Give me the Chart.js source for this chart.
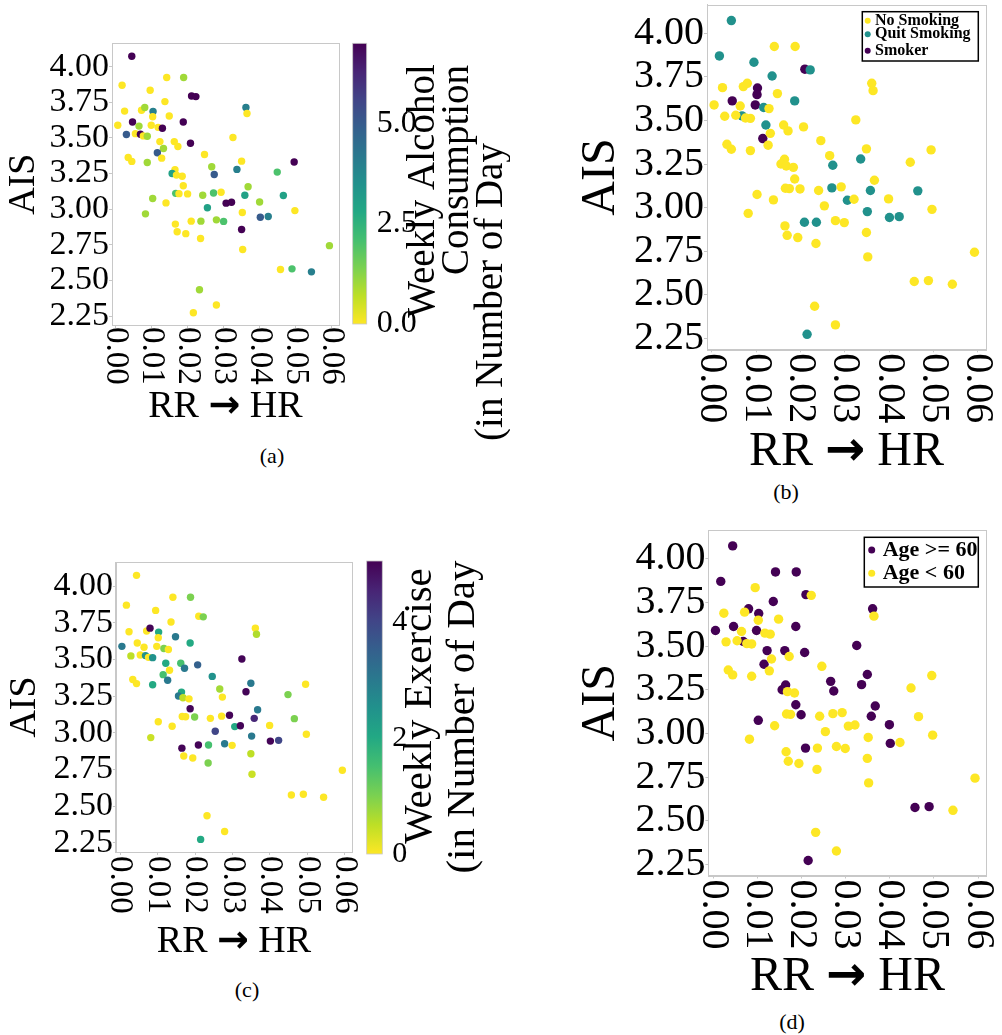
<!DOCTYPE html>
<html>
<head>
<meta charset="utf-8">
<script src="https://cdn.jsdelivr.net/npm/chart.js@4.4.0/dist/chart.umd.min.js"></script>
<style>
  body { margin: 0; background: #fff; width: 1002px; height: 1035px; position: relative; overflow: hidden; font-family: "Liberation Serif", serif; }
  canvas { position: absolute; }
  .cap { position: absolute; font-size: 22px; transform: translate(-50%, -50%); font-family: "Liberation Serif", serif; }
</style>
</head>
<body>
<canvas id="plotA" width="345" height="398" style="left:0;top:30px"></canvas>
<canvas id="barA" width="165" height="410" style="left:345px;top:30px"></canvas>
<canvas id="plotB" width="440" height="477" style="left:560px;top:0"></canvas>
<canvas id="plotC" width="358" height="416" style="left:0;top:545px"></canvas>
<canvas id="barC" width="150" height="430" style="left:358px;top:545px"></canvas>
<canvas id="plotD" width="440" height="484" style="left:560px;top:520px"></canvas>
<div class="cap" style="left:272px;top:456px">(a)</div>
<div class="cap" style="left:786px;top:492px">(b)</div>
<div class="cap" style="left:247px;top:990px">(c)</div>
<div class="cap" style="left:792px;top:1022px">(d)</div>
<script>
// ─── Data ────────────────────────────────────────────────────────────────────

const xTicks      = [0, 0.01, 0.02, 0.03, 0.04, 0.05, 0.06];
const xTickLabels = ['0.00', '0.01', '0.02', '0.03', '0.04', '0.05', '0.06'];
const yTicks      = [2.25, 2.5, 2.75, 3.0, 3.25, 3.5, 3.75, 4.0];
const yTickLabels = ['2.25', '2.50', '2.75', '3.00', '3.25', '3.50', '3.75', '4.00'];
const X_MIN = -0.0011, X_MAX = 0.0619;
const Y_MIN = 2.187,  Y_MAX = 4.164;
const xTitleParts = ['RR', '→', 'HR'];

const alcoholTicks       = [0, 2.5, 5];
const alcoholTickLabels  = ['0.0', '2.5', '5.0'];
const ALCOHOL_MAX        = 7;
const exerciseTicks      = [0, 2, 4];
const exerciseTickLabels = ['0', '2', '4'];
const EXERCISE_MAX       = 5.05;

const smokingCats = ['No Smoking', 'Quit Smoking', 'Smoker'];
const ageCats     = ['Age >= 60', 'Age < 60'];

// RR -> HR and AIS, one entry per subject
const rrHr = [
  0.0044, 0.0017, 0.0141, 0.0188, 0.0095, 0.0210, 0.0222, 0.0136, 0.0024, 0.0071,
  0.0080, 0.0103, 0.0102, 0.0148, 0.0361, 0.0364, 0.0046, 0.0187, 0.0005, 0.0064,
  0.0098, 0.0117, 0.0129, 0.0029, 0.0054, 0.0068, 0.0076, 0.0087, 0.0325, 0.0122,
  0.0162, 0.0172, 0.0207, 0.0132, 0.0115, 0.0127, 0.0034, 0.0044, 0.0087, 0.0246,
  0.0349, 0.0495, 0.0266, 0.0336, 0.0273, 0.0448, 0.0164, 0.0156, 0.0168, 0.0184,
  0.0187, 0.0367, 0.0166, 0.0175, 0.0199, 0.0241, 0.0271, 0.0292, 0.0358, 0.0465,
  0.0102, 0.0139, 0.0306, 0.0321, 0.0399, 0.0254, 0.0082, 0.0351, 0.0497, 0.0401,
  0.0423, 0.0209, 0.0236, 0.0279, 0.0299, 0.0165, 0.0170, 0.0194, 0.0235, 0.0349,
  0.0352, 0.0593, 0.0457, 0.0489, 0.0543, 0.0232, 0.0279, 0.0215
];
const ais = [
  4.073, 3.870, 3.924, 3.924, 3.834, 3.794, 3.790, 3.755, 3.688, 3.694,
  3.713, 3.686, 3.648, 3.654, 3.713, 3.671, 3.612, 3.612, 3.589, 3.583,
  3.589, 3.574, 3.568, 3.524, 3.530, 3.526, 3.514, 3.512, 3.503, 3.474,
  3.474, 3.440, 3.463, 3.426, 3.396, 3.358, 3.363, 3.335, 3.327, 3.384,
  3.337, 3.331, 3.298, 3.279, 3.243, 3.260, 3.277, 3.250, 3.239, 3.231,
  3.164, 3.157, 3.111, 3.109, 3.107, 3.098, 3.113, 3.119, 3.098, 3.096,
  3.075, 3.044, 3.042, 3.048, 3.050, 3.010, 2.967, 2.977, 2.990, 2.943,
  2.948, 2.916, 2.916, 2.925, 2.914, 2.895, 2.841, 2.828, 2.794, 2.857,
  2.717, 2.744, 2.576, 2.581, 2.560, 2.434, 2.327, 2.273
];
// weekly alcohol consumption (days)
const alcohol = [
  7, 0, 0, 1, 0, 7, 7, 0, 0, 0,
  1, 4, 0, 0, 4, 0, 7, 7, 0, 1,
  0, 0, 7, 5, 0, 7, 0, 1, 0, 0,
  0, 0, 7, 1, 5, 0, 0, 0, 1, 0,
  0, 7, 1, 4, 5, 2, 0, 3, 0, 0,
  0, 1, 2, 0, 0, 1, 2, 0, 3, 3,
  1, 0, 7, 7, 1, 3, 1, 0, 0, 5,
  4, 0, 1, 1, 2, 0, 0, 0, 0, 7,
  0, 1, 0, 2, 4, 1, 0, 0
];
// weekly exercise (days)
const exercise = [
  0, 0, 0, 1, 0, 0, 1, 0, 0, 0,
  5, 2, 0, 3, 0, 0.6, 0, 2, 3, 0,
  0, 1, 0, 0.5, 0, 2.5, 0, 2.5, 5, 2,
  1.5, 3, 3.5, 0, 1.5, 3, 0, 0, 2, 2.5,
  3, 0, 0.7, 5, 0, 1, 2, 3, 0.5, 0,
  5, 3, 0, 0, 1, 0, 0, 5, 4.5, 1,
  0, 0, 2, 5, 0, 4, 0.4, 3, 0, 5,
  4, 5, 1.5, 3, 0, 5, 0, 0, 1, 0.5,
  0.4, 0, 0, 0, 0, 0, 0, 2
];
// 0 = No Smoking, 1 = Quit Smoking, 2 = Smoker
const smoking = [
  1, 1, 0, 0, 1, 2, 1, 1, 0, 0,
  0, 2, 2, 0, 0, 0, 2, 1, 0, 0,
  2, 1, 0, 0, 0, 1, 0, 0, 0, 1,
  0, 0, 0, 0, 2, 0, 0, 0, 0, 0,
  0, 0, 0, 1, 1, 0, 0, 0, 0, 0,
  0, 0, 0, 0, 0, 0, 1, 0, 1, 1,
  0, 0, 1, 0, 0, 0, 0, 1, 0, 1,
  1, 1, 1, 0, 0, 0, 0, 0, 0, 0,
  0, 0, 0, 0, 0, 0, 0, 1
];
// 0 = Age >= 60, 1 = Age < 60
const ageGroup = [
  0, 0, 0, 0, 1, 0, 1, 0, 1, 1,
  0, 0, 1, 1, 0, 1, 0, 0, 0, 1,
  0, 1, 1, 1, 1, 0, 1, 1, 0, 0,
  0, 1, 0, 1, 0, 1, 1, 1, 1, 1,
  0, 1, 0, 0, 0, 1, 0, 0, 1, 1,
  0, 0, 1, 1, 0, 1, 1, 1, 0, 1,
  0, 1, 1, 1, 0, 1, 1, 1, 1, 0,
  1, 0, 1, 1, 1, 1, 1, 1, 1, 1,
  1, 1, 0, 0, 1, 1, 1, 0
];

// ─── Helpers ─────────────────────────────────────────────────────────────────

const FRAME = '#c8c8c8';
const SERIF = '"Liberation Serif", serif';
Chart.defaults.font.family = SERIF;
Chart.defaults.color = '#000';

const VIRIDIS = ['#440154', '#482475', '#414487', '#355f8d', '#2a788e', '#21918c',
                 '#22a884', '#44bf70', '#7ad151', '#bddf26', '#fde725'];
const YELLOW = '#fde725', TEAL = '#21918c', PURPLE = '#440154';

function hexRgb(h) {
  return [1, 3, 5].map(k => parseInt(h.slice(k, k + 2), 16));
}

function viridis(t) {
  t = Math.min(1, Math.max(0, t)) * 10;
  const i = Math.min(9, Math.floor(t)), f = t - i;
  const a = hexRgb(VIRIDIS[i]), b = hexRgb(VIRIDIS[i + 1]);
  const c = a.map((v, k) => Math.round(v + (b[k] - v) * f));
  return `rgb(${c[0]},${c[1]},${c[2]})`;
}

const points = rrHr.map((x, i) => ({ x, y: ais[i] }));

// ─── Plugins ─────────────────────────────────────────────────────────────────

// box round the plot area
const frame = {
  id: 'frame',
  afterDraw(chart) {
    const { ctx, chartArea: a } = chart;
    ctx.save();
    ctx.strokeStyle = FRAME;
    ctx.lineWidth = 1;
    ctx.strokeRect(Math.round(a.left) + 0.5, Math.round(a.top) + 0.5,
                   Math.round(a.right - a.left), Math.round(a.bottom - a.top));
    ctx.restore();
  }
};

// x tick labels turned clockwise, read top to bottom, plus the axis title
const xLabels = {
  id: 'xLabels',
  afterDraw(chart, args, o) {
    const { ctx, chartArea: a } = chart;
    const sc = chart.scales.x;
    ctx.save();
    ctx.font = `${o.size}px ${SERIF}`;
    ctx.fillStyle = '#000';
    ctx.textAlign = 'left';
    ctx.textBaseline = 'middle';
    sc.ticks.forEach((t, i) => {
      ctx.save();
      ctx.translate(sc.getPixelForValue(t.value), sc.top + o.gap);
      ctx.rotate(Math.PI / 2);
      ctx.fillText(xTickLabels[i], 0, 0);
      ctx.restore();
    });

    // title: serif letters with a heavy arrow between them
    const textFont = `${o.titleSize}px ${SERIF}`;
    const arrowFont = `bold ${Math.round(o.titleSize)}px "DejaVu Sans"`;
    const parts = [
      { t: xTitleParts[0] + ' ', f: textFont },
      { t: xTitleParts[1], f: arrowFont },
      { t: ' ' + xTitleParts[2], f: textFont }
    ];
    parts.forEach(p => { ctx.font = p.f; p.w = ctx.measureText(p.t).width; });
    let x = (a.left + a.right) / 2 - parts.reduce((s, p) => s + p.w, 0) / 2;
    ctx.textBaseline = 'alphabetic';
    parts.forEach(p => {
      ctx.font = p.f;
      ctx.fillText(p.t, x, o.titleBase);
      x += p.w;
    });
    ctx.restore();
  }
};

// framed legend inside the plot
const boxLegend = {
  id: 'boxLegend',
  afterDraw(chart, args, o) {
    const { ctx } = chart;
    ctx.save();
    ctx.fillStyle = '#fff';
    ctx.fillRect(o.x, o.y, o.w, o.h);
    ctx.strokeStyle = '#000';
    ctx.lineWidth = 1.5;
    ctx.strokeRect(o.x, o.y, o.w, o.h);
    ctx.font = `bold ${o.size}px ${SERIF}`;
    ctx.textBaseline = 'middle';
    o.order.forEach((di, k) => {
      const ds = chart.data.datasets[di];
      const cy = o.y + o.rows[k];
      ctx.fillStyle = ds.backgroundColor;
      ctx.beginPath();
      ctx.arc(o.x + o.markX, cy, o.r, 0, Math.PI * 2);
      ctx.fill();
      ctx.fillStyle = '#000';
      ctx.fillText(ds.label, o.x + o.textX, cy);
    });
    ctx.restore();
  }
};

// viridis strip for the colour bars
const colorStrip = {
  id: 'colorStrip',
  beforeDatasetsDraw(chart) {
    const { ctx, chartArea: a } = chart;
    const g = ctx.createLinearGradient(0, a.bottom, 0, a.top);
    for (let k = 0; k <= 10; k++) g.addColorStop(k / 10, VIRIDIS[10 - k]);
    ctx.save();
    ctx.fillStyle = g;
    ctx.fillRect(a.left, a.top, a.right - a.left, a.bottom - a.top);
    ctx.strokeStyle = FRAME;
    ctx.lineWidth = 0.8;
    ctx.strokeRect(a.left, a.top, a.right - a.left, a.bottom - a.top);
    ctx.restore();
  }
};

// rotated, multi-line colour bar caption
const sideTitle = {
  id: 'sideTitle',
  afterDraw(chart, args, o) {
    const { ctx } = chart;
    ctx.save();
    ctx.font = `${o.size}px ${SERIF}`;
    ctx.fillStyle = '#000';
    ctx.textAlign = 'center';
    ctx.textBaseline = 'middle';
    o.lines.forEach(l => {
      ctx.save();
      ctx.translate(l.x, l.y);
      ctx.rotate(-Math.PI / 2);
      ctx.fillText(l.text, 0, 0);
      ctx.restore();
    });
    ctx.restore();
  }
};

// ─── Chart builders ──────────────────────────────────────────────────────────

function noPad(s) {
  s.paddingTop = s.paddingBottom = s.paddingLeft = s.paddingRight = 0;
}

function scatterOptions(g) {
  return {
    responsive: false,
    animation: false,
    layout: { autoPadding: false, padding: { left: 0, top: g.pt, right: g.pr, bottom: 0 } },
    plugins: {
      legend: { display: false },
      tooltip: { enabled: false },
      xLabels: { size: g.xFont, gap: g.gap, titleSize: g.titleSize, titleBase: g.titleBase },
      boxLegend: g.legend || false
    },
    scales: {
      x: {
        type: 'linear', min: X_MIN, max: X_MAX,
        afterBuildTicks: s => { s.ticks = xTicks.map(v => ({ value: v })); },
        afterFit: s => { s.height = g.hx; noPad(s); },
        ticks: { display: false, autoSkip: false },
        grid: { drawOnChartArea: false, drawTicks: true, tickLength: 3, color: FRAME },
        border: { color: FRAME },
        title: { display: false }
      },
      y: {
        type: 'linear', min: Y_MIN, max: Y_MAX,
        afterBuildTicks: s => { s.ticks = yTicks.map(v => ({ value: v })); },
        afterFit: s => { s.width = g.wy; noPad(s); },
        ticks: { font: { size: g.yFont }, color: '#000', padding: 0, autoSkip: false, callback: (v, i) => yTickLabels[i] },
        grid: { drawOnChartArea: false, drawTicks: true, tickLength: 3, color: FRAME },
        border: { color: FRAME },
        title: { display: true, text: 'AIS', font: { size: g.titleSize }, color: '#000', padding: { top: g.tp, bottom: 0 } }
      }
    }
  };
}

function colorbar(id, g) {
  new Chart(document.getElementById(id), {
    type: 'scatter',
    data: { datasets: [{ data: [] }] },
    options: {
      responsive: false,
      animation: false,
      layout: { autoPadding: false, padding: { left: g.pl, top: g.pt, right: 0, bottom: g.pb } },
      plugins: { legend: { display: false }, tooltip: { enabled: false }, sideTitle: { size: g.titleSize, lines: g.lines } },
      scales: {
        x: { display: false, min: 0, max: 1 },
        y: {
          position: 'right', min: 0, max: g.max,
          afterBuildTicks: s => { s.ticks = g.ticks.map(v => ({ value: v })); },
          afterFit: s => { s.width = g.wy; noPad(s); },
          ticks: { font: { size: g.tickSize }, color: '#000', padding: 2, autoSkip: false, callback: (v, i) => g.labels[i] },
          grid: { display: false },
          border: { display: false }
        }
      }
    },
    plugins: [colorStrip, sideTitle]
  });
}

function drawAll() {
  // ─── (a) alcohol ───────────────────────────────────────────────────────────
  new Chart(document.getElementById('plotA'), {
    type: 'scatter',
    data: {
      datasets: [{
        data: points,
        backgroundColor: alcohol.map(v => viridis(1 - v / ALCOHOL_MAX)),
        pointRadius: 3.7, borderWidth: 0
      }]
    },
    options: scatterOptions({ pt: 13.3, pr: 6.2, wy: 112, hx: 103, tp: 1.2, titleSize: 38, titleBase: 386.7, yFont: 34, xFont: 33, gap: 2 }),
    plugins: [frame, xLabels]
  });

  colorbar('barA', {
    pl: 7.7, pt: 13.3, pb: 116, wy: 143.3, max: ALCOHOL_MAX,
    ticks: alcoholTicks, labels: alcoholTickLabels, tickSize: 32, titleSize: 39,
    lines: [
      { text: 'Weekly Alcohol', x: 79, y: 161 },
      { text: 'Consumption', x: 113, y: 140 },
      { text: '(in Number of Day', x: 147, y: 262 }
    ]
  });

  // ─── (b) smoking ───────────────────────────────────────────────────────────
  const smokeColors = [YELLOW, TEAL, PURPLE];
  new Chart(document.getElementById('plotB'), {
    type: 'scatter',
    data: {
      datasets: smokingCats.map((label, c) => ({
        label,
        data: points.filter((p, i) => smoking[i] === c),
        backgroundColor: smokeColors[c],
        pointRadius: 4.7, borderWidth: 0
      }))
    },
    options: scatterOptions({
      pt: 4.7, pr: 14, wy: 147, hx: 127.7, tp: 12.9, titleSize: 48, titleBase: 465, yFont: 40, xFont: 40, gap: 4,
      legend: { x: 302.3, y: 11.7, w: 116, h: 49.3, rows: [9, 22.5, 39], markX: 5.4, textX: 12.7, r: 3, size: 16, order: [0, 1, 2] }
    }),
    plugins: [frame, xLabels, boxLegend]
  });

  // ─── (c) exercise ──────────────────────────────────────────────────────────
  new Chart(document.getElementById('plotC'), {
    type: 'scatter',
    data: {
      datasets: [{
        data: points,
        backgroundColor: exercise.map(v => viridis(1 - v / EXERCISE_MAX)),
        pointRadius: 3.7, borderWidth: 0
      }]
    },
    options: scatterOptions({ pt: 17, pr: 5.9, wy: 115.9, hx: 109, tp: 2.2, titleSize: 38, titleBase: 406.7, yFont: 34, xFont: 33, gap: 4 }),
    plugins: [frame, xLabels]
  });

  colorbar('barC', {
    pl: 8.7, pt: 16, pb: 121, wy: 125.7, max: EXERCISE_MAX,
    ticks: exerciseTicks, labels: exerciseTickLabels, tickSize: 30, titleSize: 41,
    lines: [
      { text: 'Weekly Exercise', x: 62, y: 161 },
      { text: '(in Number of Day', x: 105, y: 172 }
    ]
  });

  // ─── (d) age ───────────────────────────────────────────────────────────────
  const ageColors = [PURPLE, YELLOW];
  new Chart(document.getElementById('plotD'), {
    type: 'scatter',
    data: {
      datasets: ageCats.map((label, c) => ({
        label,
        data: points.filter((p, i) => ageGroup[i] === c),
        backgroundColor: ageColors[c],
        pointRadius: 4.7, borderWidth: 0,
        order: c === 0 ? 1 : 0   // younger group drawn on top
      }))
    },
    options: scatterOptions({
      pt: 10, pr: 13.5, wy: 148.4, hx: 128.5, tp: 12.9, titleSize: 48, titleBase: 470, yFont: 40, xFont: 40, gap: 4,
      legend: { x: 304.3, y: 17.3, w: 114, h: 49.7, rows: [12.7, 36], markX: 7.4, textX: 18.4, r: 3.5, size: 22, order: [0, 1] }
    }),
    plugins: [frame, xLabels, boxLegend]
  });
}

Promise.all([
  document.fonts.load('20px "Liberation Serif"'),
  document.fonts.load('bold 20px "Liberation Serif"'),
  document.fonts.load('bold 20px "DejaVu Sans"')
]).then(drawAll, drawAll);
</script>
</body>
</html>
